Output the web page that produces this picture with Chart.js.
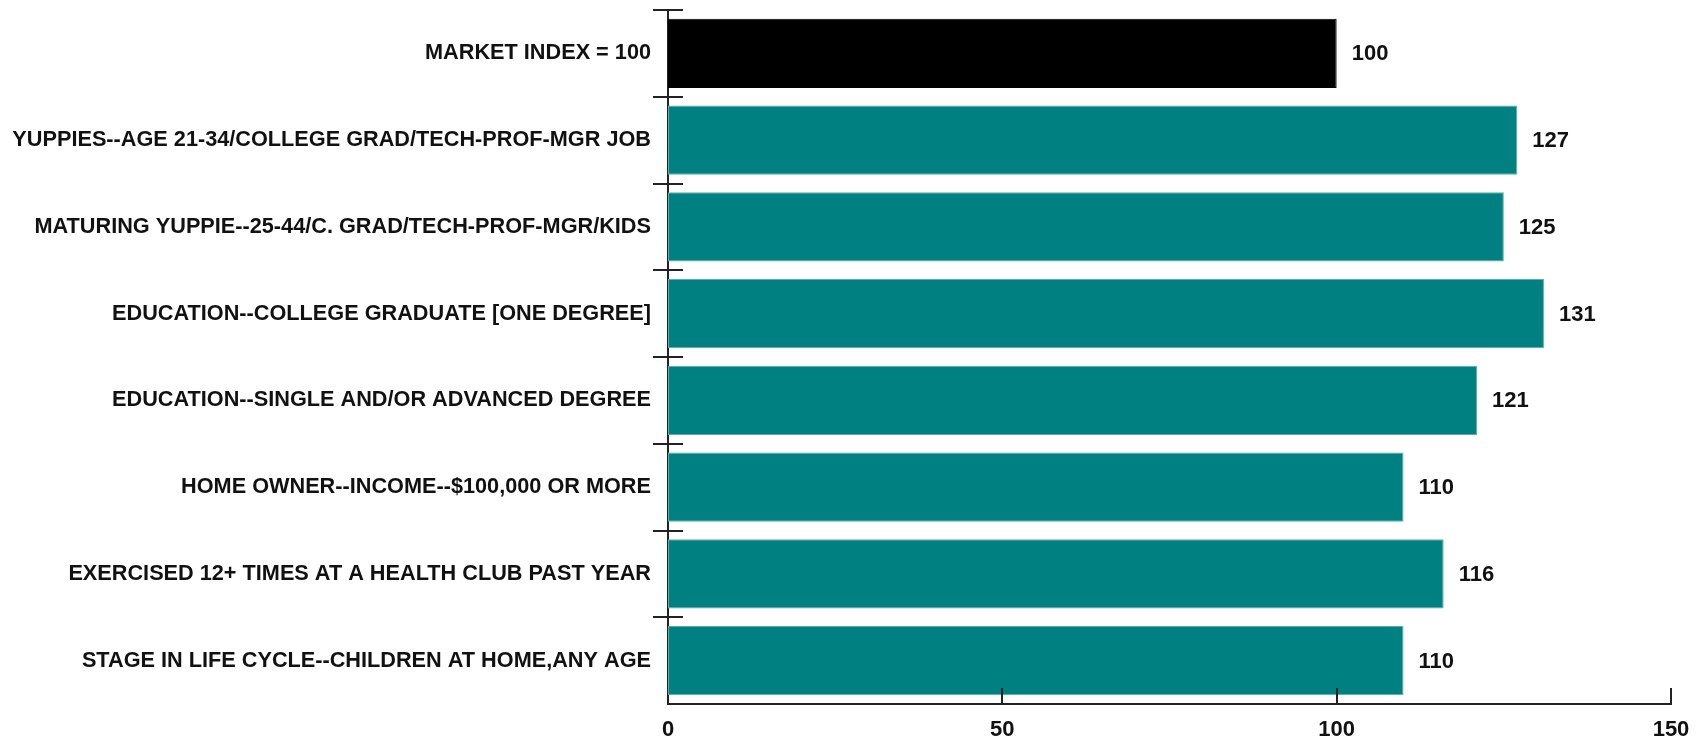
<!DOCTYPE html>
<html>
<head>
<meta charset="utf-8">
<script src="https://cdn.jsdelivr.net/npm/chart.js"></script>
<style>
  html, body { margin: 0; padding: 0; background: #fff; }
  #wrap { width: 1698px; height: 744px; position: relative; }
</style>
</head>
<body>
<div id="wrap"><canvas id="c"></canvas></div>
<script>
const categories = [
  "MARKET INDEX = 100",
  "YUPPIES--AGE 21-34/COLLEGE GRAD/TECH-PROF-MGR JOB",
  "MATURING YUPPIE--25-44/C. GRAD/TECH-PROF-MGR/KIDS",
  "EDUCATION--COLLEGE GRADUATE [ONE DEGREE]",
  "EDUCATION--SINGLE AND/OR ADVANCED DEGREE",
  "HOME OWNER--INCOME--$100,000 OR MORE",
  "EXERCISED 12+ TIMES AT A HEALTH CLUB PAST YEAR",
  "STAGE IN LIFE CYCLE--CHILDREN AT HOME,ANY AGE"
];
const indexValues = [100, 127, 125, 131, 121, 110, 116, 110];
const xTicks = [0, 50, 100, 150];
const barColors = ["#000000", "#008080", "#008080", "#008080", "#008080", "#008080", "#008080", "#008080"];
const barEdgeColors = ["#000000", "#5aaeae", "#5aaeae", "#5aaeae", "#5aaeae", "#5aaeae", "#5aaeae", "#5aaeae"];

const FONT = "'Liberation Sans', Arial, sans-serif";

const crossTicks = {
  id: 'crossTicks',
  afterDraw(chart) {
    const ctx = chart.ctx;
    const y = chart.scales.y, x = chart.scales.x;
    ctx.save();
    ctx.strokeStyle = '#222';
    ctx.lineWidth = 2;
    const n = y.ticks.length;
    const step = y.getPixelForTick(1) - y.getPixelForTick(0);
    for (let i = 0; i < n; i++) {
      const py = y.getPixelForTick(i) - step / 2;
      ctx.beginPath();
      ctx.moveTo(y.right - 15, Math.round(py));
      ctx.lineTo(y.right + 15, Math.round(py));
      ctx.stroke();
    }
    x.ticks.forEach(t => {
      if (t.value === 0) return;
      const px = x.getPixelForValue(t.value);
      ctx.beginPath();
      ctx.moveTo(Math.round(px), x.top);
      ctx.lineTo(Math.round(px), x.top - 16);
      ctx.stroke();
    });
    ctx.fillStyle = '#111';
    ctx.font = "bold 22px " + FONT;
    ctx.textAlign = 'left';
    ctx.textBaseline = 'middle';
    const meta = chart.getDatasetMeta(0);
    meta.data.forEach((bar, i) => {
      ctx.fillText(String(indexValues[i]), bar.x + 15, bar.y + 1);
    });
    ctx.restore();
  }
};

new Chart(document.getElementById('c'), {
  type: 'bar',
  data: {
    labels: categories,
    datasets: [{
      data: indexValues,
      backgroundColor: barColors,
      borderColor: barEdgeColors,
      borderWidth: 1,
      borderSkipped: false,
      categoryPercentage: 1.0,
      barPercentage: 0.8
    }]
  },
  options: {
    indexAxis: 'y',
    responsive: true,
    maintainAspectRatio: false,
    animation: false,
    devicePixelRatio: 1,
    layout: { padding: { top: 10, right: 27, left: 0, bottom: 0 } },
    plugins: { legend: { display: false }, tooltip: { enabled: false } },
    scales: {
      x: {
        min: 0, max: 150,
        afterBuildTicks(scale) { scale.ticks = xTicks.map(v => ({ value: v })); },
        afterFit(scale) { scale.height = 40; scale.paddingLeft = 0; scale.paddingRight = 0; },
        grid: { display: false, drawTicks: false },
        border: { display: true, color: '#222', width: 2 },
        ticks: {
          padding: 13,
          color: '#111',
          font: { family: FONT, size: 22, weight: 'bold' }
        }
      },
      y: {
        afterFit(scale) { scale.width = 668; scale.paddingTop = 0; scale.paddingBottom = 0; },
        grid: { display: false, drawTicks: false },
        border: { display: true, color: '#222', width: 2 },
        ticks: {
          padding: 17,
          color: '#111',
          autoSkip: false,
          font: { family: FONT, size: 21.7, weight: 'bold' }
        }
      }
    }
  },
  plugins: [crossTicks]
});
</script>
</body>
</html>
